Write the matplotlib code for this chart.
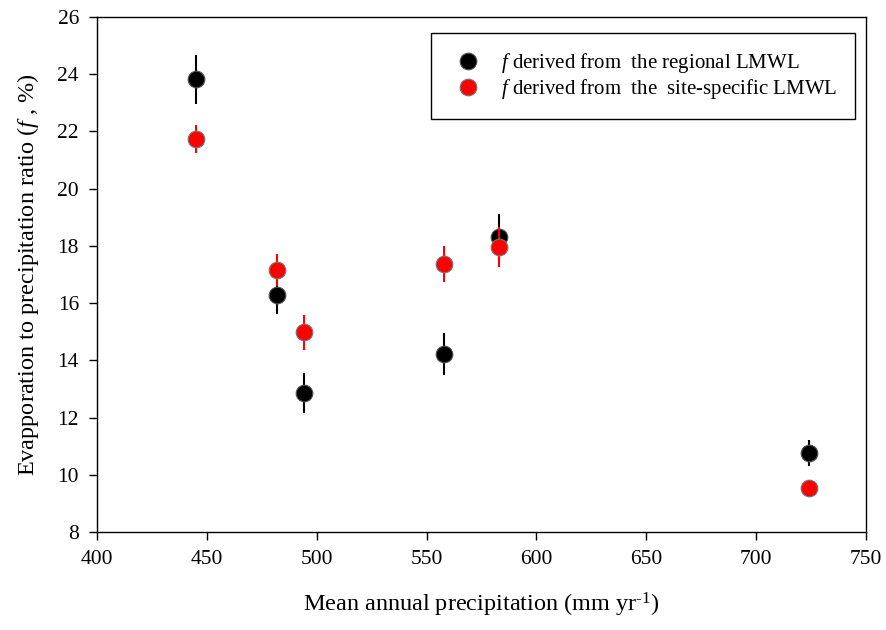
import matplotlib
matplotlib.use("Agg")
import matplotlib.pyplot as plt
from matplotlib.lines import Line2D

plt.rcParams["font.family"] = ["Liberation Serif", "DejaVu Serif"]
plt.rcParams["mathtext.fontset"] = "custom"
plt.rcParams["mathtext.rm"] = "Liberation Serif"
plt.rcParams["mathtext.it"] = "Liberation Serif:italic"

# mean annual precipitation (mm/yr) per site
precip = [445, 482, 494, 558, 583, 724]

# f from regional LMWL
f_regional = [23.82, 16.28, 12.85, 14.22, 18.32, 10.75]
err_regional = [0.85, 0.65, 0.70, 0.72, 0.80, 0.45]

# f from site-specific LMWL
f_site = [21.74, 17.16, 14.98, 17.36, 17.97, 9.53]
err_site = [0.49, 0.55, 0.62, 0.63, 0.70, 0.30]

fig = plt.figure(figsize=(8.87, 6.30), dpi=100)
ax = fig.add_axes([0.1094, 0.1556, 0.8669, 0.8174])

ax.errorbar(precip, f_regional, yerr=err_regional, fmt="o", color="black",
            ms=12, mfc="black", mec="#555555", mew=0.8, elinewidth=1.5,
            capsize=0, zorder=3)
ax.errorbar(precip, f_site, yerr=err_site, fmt="o", color="red",
            ms=12, mfc="red", mec="#777777", mew=0.8, elinewidth=1.5,
            capsize=0, ecolor="red", zorder=4)

ax.set_xlim(400, 750)
ax.set_ylim(8, 26)
ax.set_xticks(range(400, 751, 50))
ax.set_yticks(range(8, 27, 2))
ax.tick_params(direction="out", length=6, width=1, labelsize=15.5,
               top=False, right=False, pad=7)
for s in ax.spines.values():
    s.set_linewidth(1.0)

ax.set_xlabel("Mean annual precipitation (mm yr$^{\u2010\\mathregular{1}}$)",
              fontsize=17.5, labelpad=16)
ax.set_ylabel("Evapporation to precipitation ratio ($\\it{f}$ , %)", fontsize=17.5,
              labelpad=12)

handles = [
    Line2D([], [], ls="none", marker="o", ms=12, mfc="black", mec="#555555", mew=0.8),
    Line2D([], [], ls="none", marker="o", ms=12, mfc="red", mec="#777777", mew=0.8),
]
labels = [
    "$\\it{f}$ derived from  the regional LMWL",
    "$\\it{f}$ derived from  the  site-specific LMWL",
]
leg = ax.legend(handles, labels, loc="upper right", bbox_to_anchor=(0.986, 0.968),
                borderaxespad=0, fontsize=15, frameon=True, fancybox=False,
                edgecolor="black", framealpha=1, handletextpad=0.7,
                borderpad=0.85, labelspacing=0.1, handlelength=1.8)
leg.get_frame().set_linewidth(1.0)

fig.savefig("out.png", dpi=100)
